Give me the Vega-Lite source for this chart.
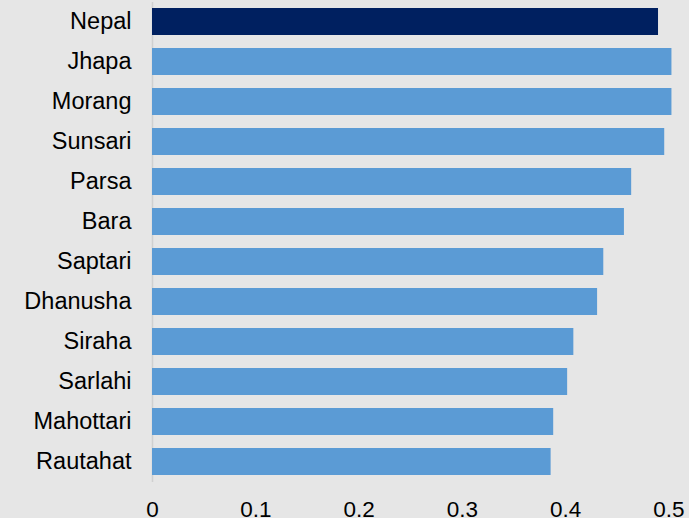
{
  "$schema": "https://vega.github.io/schema/vega-lite/v6.json",
  "width": 537,
  "height": 480,
  "autosize": {"type": "none"},
  "padding": {"left": 152, "top": 1.5, "right": 0, "bottom": 36.5},
  "background": "#e6e6e6",
  "config": {
    "view": {"stroke": null},
    "font": "Liberation Sans"
  },
  "data": {
    "values": [
      {"district": "Nepal", "value": 0.490, "level": "national"},
      {"district": "Jhapa", "value": 0.503, "level": "district"},
      {"district": "Morang", "value": 0.503, "level": "district"},
      {"district": "Sunsari", "value": 0.496, "level": "district"},
      {"district": "Parsa", "value": 0.464, "level": "district"},
      {"district": "Bara", "value": 0.457, "level": "district"},
      {"district": "Saptari", "value": 0.437, "level": "district"},
      {"district": "Dhanusha", "value": 0.431, "level": "district"},
      {"district": "Siraha", "value": 0.408, "level": "district"},
      {"district": "Sarlahi", "value": 0.402, "level": "district"},
      {"district": "Mahottari", "value": 0.3885, "level": "district"},
      {"district": "Rautahat", "value": 0.386, "level": "district"}
    ]
  },
  "mark": {"type": "bar"},
  "encoding": {
    "y": {
      "field": "district",
      "type": "nominal",
      "sort": null,
      "scale": {"paddingInner": 0.325, "paddingOuter": 0.1625},
      "axis": {
        "title": null,
        "ticks": false,
        "domain": true,
        "domainColor": "#d0d0d0",
        "domainWidth": 1.5,
        "labelFontSize": 23.5,
        "labelColor": "#000000",
        "labelPadding": 21,
        "labelFont": "Liberation Sans"
      }
    },
    "x": {
      "field": "value",
      "type": "quantitative",
      "scale": {"domain": [0, 0.52], "nice": false},
      "axis": {
        "title": null,
        "values": [0, 0.1, 0.2, 0.3, 0.4, 0.5],
        "format": ".1~f",
        "grid": false,
        "ticks": false,
        "domain": false,
        "labelFontSize": 22.5,
        "labelColor": "#000000",
        "labelPadding": 17,
        "labelFont": "Liberation Sans",
        "labelFlush": false
      }
    },
    "color": {
      "field": "level",
      "type": "nominal",
      "scale": {"domain": ["national", "district"], "range": ["#002060", "#5b9bd5"]},
      "legend": null
    }
  }
}
